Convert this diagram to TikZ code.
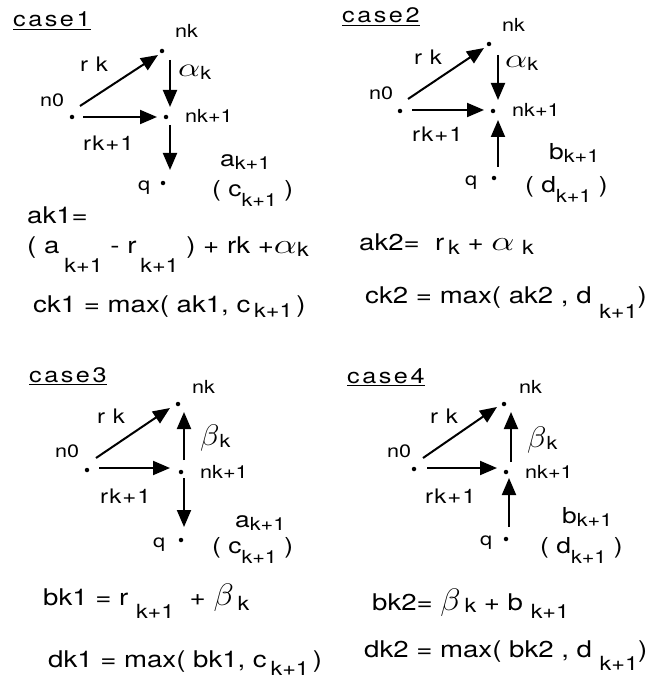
\documentclass[tikz,border=0pt]{standalone}
\usepackage{fix-cm}
\usepackage{graphicx}
\usepackage{fontspec}
\setmainfont[FakeStretch=1.2]{TeX Gyre Heros}
\usetikzlibrary{arrows.meta,calc}
\newcommand\sbx[2]{\raisebox{-#1pt}{\fontsize{18}{20}\selectfont #2}}
\newcommand\sbe[2]{\raisebox{-#1pt}{\fontsize{19.5}{22}\selectfont #2}}
\newcommand\alp{\scalebox{1.6}[1.2]{$\alpha$}}
\newcommand\bet{\scalebox{1.45}[1.35]{$\beta$}}
\tikzset{
  dot/.style={circle,fill=black,inner sep=0pt,minimum size=4.5pt},
  lbl/.style={font=\fontsize{18}{20}\selectfont,inner sep=0pt,anchor=base west},
  edl/.style={font=\fontsize{20}{22}\selectfont\addfontfeature{LetterSpace=5},inner sep=0pt,anchor=base west},
  big/.style={font=\fontsize{22}{24}\selectfont,inner sep=0pt,anchor=base west},
  eq/.style={font=\fontsize{23}{26}\selectfont,inner sep=0pt,anchor=base west},
  ttl/.style={font=\fontsize{21}{24}\selectfont\addfontfeature{LetterSpace=12},inner sep=0pt,anchor=base west},
  arr/.style={line width=2pt,-{Triangle[length=17pt,width=14pt]}}
}
\begin{document}
\begin{tikzpicture}[x=1pt,y=-1pt]
\fill[white] (0,0) rectangle (664,679);
\useasboundingbox (0,0) rectangle (664,679);

% ---------------- case 1 ----------------
\node[ttl] (c1t) at (13,27) {\underline{case1}};
\node[dot] (c1n0) at (72,117) {};
\node[dot] (c1nk) at (162,51) {};
\node[dot] (c1nk1) at (166,117) {};
\node[dot] (c1q) at (163,183) {};
\node[lbl] (c1Lnk) at (175,38) {nk};
\node[lbl] (c1Ln0) at (40,107) {n0};
\node[lbl] (c1Lnk1) at (185,123) {nk+1};
\node[lbl] (c1Lq) at (138,190) {q};
\node[edl] (c1Lr) at (80,72) {r k};
\node[edl] (c1Lr1) at (83,150) {rk+1};
\node[big] (c1La) at (178,77) {\alp\sbx{3}{k}};
\node[big] (c1Lak) at (220,167) {a\sbx{3}{k+1}};
\node[big] (c1Lck) at (212,196) {( c\sbx{10}{k+1} )};
\draw[arr] ($(c1n0)+(8,-11)$) -- ($(c1nk)+(-4,4)$);
\draw[arr] ($(c1n0)+(11,0)$) -- ($(c1nk1)+(-9,0)$);
\draw[arr] ($(c1nk)+(8,9)$) -- ($(c1nk1)+(4,-10)$);
\draw[arr] ($(c1nk1)+(4,8)$) -- ($(c1q)+(7,-13)$);
\node[eq] (c1e1) at (27,223) {ak1=};
\node[eq] (c1e2) at (27,253) {( a\hspace{5pt}\sbe{19}{k+1} - r\,\sbe{19}{k+1} ) + rk +\alp\sbe{3}{k}};
\node[eq] (c1e3) at (33,312) {ck1 = max( ak1, c\,\sbe{5}{k+1}\,)};

% ---------------- case 2 ----------------
\node[ttl] (c2t) at (342,23) {\underline{case2}};
\node[dot] (c2n0) at (400,111) {};
\node[dot] (c2nk) at (489,44) {};
\node[dot] (c2nk1) at (493,111) {};
\node[dot] (c2q) at (494,178) {};
\node[lbl] (c2Lnk) at (502,32) {nk};
\node[lbl] (c2Ln0) at (369,100) {n0};
\node[lbl] (c2Lnk1) at (512,117) {nk+1};
\node[lbl] (c2Lq) at (465,185) {q};
\node[edl] (c2Lr) at (414,65) {r k};
\node[edl] (c2Lr1) at (412,142) {rk+1};
\node[big] (c2La) at (505,68) {\alp\sbx{3}{k}};
\node[big] (c2Lbk) at (549,160) {b\sbx{3}{k+1}};
\node[big] (c2Ldk) at (525,192) {( d\sbx{10}{k+1} )};
\draw[arr] ($(c2n0)+(8,-12)$) -- ($(c2nk)+(-5,4)$);
\draw[arr] ($(c2n0)+(12,-1)$) -- ($(c2nk1)+(-9,-1)$);
\draw[arr] ($(c2nk)+(9,11)$) -- ($(c2nk1)+(5,-11)$);
\draw[arr] ($(c2q)+(4,-11)$) -- ($(c2nk1)+(5,9)$);
\node[eq] (c2e1) at (359,250) {ak2=\ \ r\,\sbe{4}{k}\ + \alp\ \sbe{4}{k}};
\node[eq] (c2e2) at (365,303) {ck2 = max( ak2 , d\ \sbe{15}{k+1})};

% ---------------- case 3 ----------------
\node[ttl] (c3t) at (29,382) {\underline{case3}};
\node[dot] (c3n0) at (87,470) {};
\node[dot] (c3nk) at (178,404) {};
\node[dot] (c3nk1) at (181,472) {};
\node[dot] (c3q) at (181,540) {};
\node[lbl] (c3Lnk) at (192,393) {nk};
\node[lbl] (c3Ln0) at (55,457) {n0};
\node[lbl] (c3Lnk1) at (200,478) {nk+1};
\node[lbl] (c3Lq) at (153,547) {q};
\node[edl] (c3Lr) at (97,423) {r k};
\node[edl] (c3Lr1) at (100,503) {rk+1};
\node[big] (c3Lb) at (200,445) {\bet\sbx{2}{k}};
\node[big] (c3Lak) at (235,527) {a\sbx{3}{k+1}};
\node[big] (c3Lck) at (212,553) {( c\sbx{10}{k+1} )};
\draw[arr] ($(c3n0)+(9,-12)$) -- ($(c3nk)+(-8,4)$);
\draw[arr] ($(c3n0)+(12,-2)$) -- ($(c3nk1)+(-11,-4)$);
\draw[arr] ($(c3nk1)+(3,-12)$) -- ($(c3nk)+(6,8)$);
\draw[arr] ($(c3nk1)+(3,6)$) -- ($(c3q)+(3,-13)$);
\node[eq] (c3e1) at (43,605) {bk1 = r\ \sbe{13}{k+1}\ \ + \bet\,\sbe{5}{k}};
\node[eq] (c3e2) at (48,667) {dk1 = max( bk1, c\,\sbe{8}{k+1}\,)};

% ---------------- case 4 ----------------
\node[ttl] (c4t) at (347,383) {\underline{case4}};
\node[dot] (c4n0) at (414,469) {};
\node[dot] (c4nk) at (504,404) {};
\node[dot] (c4nk1) at (506,472) {};
\node[dot] (c4q) at (506,539) {};
\node[lbl] (c4Lnk) at (519,393) {nk};
\node[lbl] (c4Ln0) at (387,457) {n0};
\node[lbl] (c4Lnk1) at (525,478) {nk+1};
\node[lbl] (c4Lq) at (480,545) {q};
\node[edl] (c4Lr) at (430,423) {r k};
\node[edl] (c4Lr1) at (425,503) {rk+1};
\node[big] (c4Lb) at (527,447) {\bet\sbx{2}{k}};
\node[big] (c4Lbk) at (562,523) {b\sbx{3}{k+1}};
\node[big] (c4Ldk) at (540,553) {( d\sbx{10}{k+1} )};
\draw[arr] ($(c4n0)+(9,-11)$) -- ($(c4nk)+(-7,3)$);
\draw[arr] ($(c4n0)+(13,-1)$) -- ($(c4nk1)+(-9,-4)$);
\draw[arr] ($(c4nk1)+(5,-10)$) -- ($(c4nk)+(7,8)$);
\draw[arr] ($(c4q)+(3,-12)$) -- ($(c4nk1)+(3,6)$);
\node[eq] (c4e1) at (372,610) {bk2= \bet\,\sbe{2}{k} + b\ \sbe{8}{k+1}};
\node[eq] (c4e2) at (364,657) {dk2 = max( bk2 , d\ \sbe{13}{k+1})};
\end{tikzpicture}
\end{document}
